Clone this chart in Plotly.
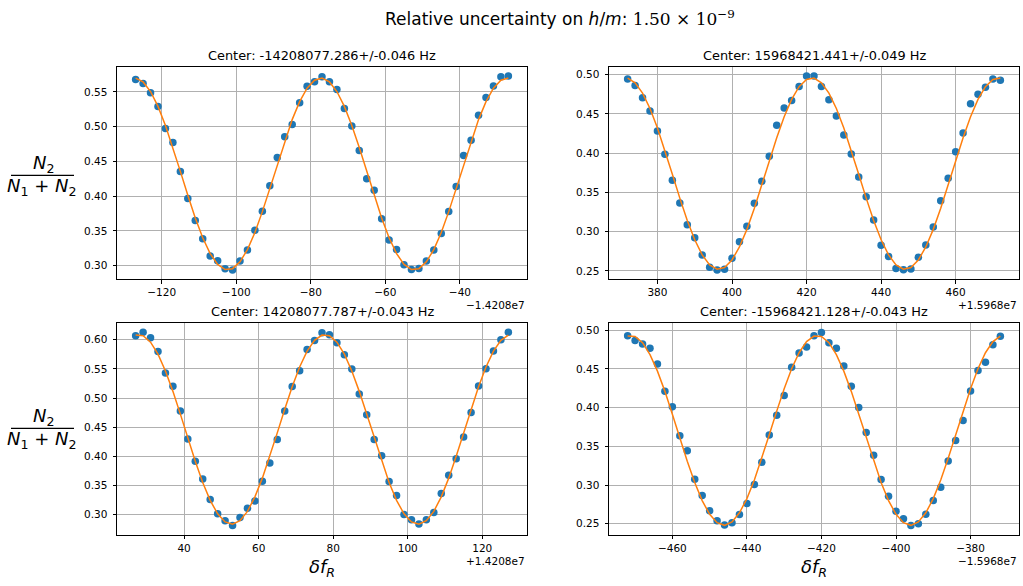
import plotly.graph_objects as go

W, H = 1023, 586

# Detuning of each Raman pulse relative to its axis offset (Hz)
X1 = list(range(-127, -26, 2))
X2 = list(range(372, 473, 2))
X3 = list(range(27, 128, 2))
X4 = list(range(-472, -371, 2))

OFFSET_LABELS = ["\u22121.4208e7", "+1.5968e7", "+1.4208e7", "\u22121.5968e7"]

TITLES = [
    "Center: -14208077.286+/-0.046 Hz",
    "Center: 15968421.441+/-0.049 Hz",
    "Center: 14208077.787+/-0.043 Hz",
    "Center: -15968421.128+/-0.043 Hz",
]

# Measured population ratio N2/(N1+N2)
Y1 = [0.5677, 0.5620, 0.5486, 0.5289, 0.4973, 0.4772, 0.4355, 0.3967, 0.3651, 0.3388,
      0.3139, 0.3072, 0.2957, 0.2938, 0.3067, 0.3225, 0.3512, 0.3785, 0.4149, 0.4557,
      0.4853, 0.5031, 0.5342, 0.5581, 0.5644, 0.5716, 0.5644, 0.5534, 0.5261, 0.5011,
      0.4657, 0.4250, 0.4087, 0.3675, 0.3369, 0.3235, 0.3014, 0.2947, 0.2962, 0.3067,
      0.3225, 0.3465, 0.3781, 0.4140, 0.4585, 0.4806, 0.5165, 0.5419, 0.5586, 0.5716,
      0.5730]
Y2 = [0.4945, 0.4864, 0.4707, 0.4537, 0.4283, 0.3986, 0.3655, 0.3366, 0.3090, 0.2924,
      0.2704, 0.2547, 0.2513, 0.2521, 0.2661, 0.2873, 0.3069, 0.3362, 0.3642, 0.3960,
      0.4355, 0.4576, 0.4673, 0.4851, 0.4983, 0.4983, 0.4851, 0.4682, 0.4474, 0.4232,
      0.3990, 0.3697, 0.3447, 0.3149, 0.2827, 0.2683, 0.2530, 0.2517, 0.2525, 0.2674,
      0.2831, 0.3060, 0.3396, 0.3680, 0.4020, 0.4257, 0.4631, 0.4750, 0.4839, 0.4945,
      0.4928]
Y3 = [0.6068, 0.6131, 0.6034, 0.5800, 0.5430, 0.5201, 0.4779, 0.4294, 0.3912, 0.3610,
      0.3256, 0.3011, 0.2891, 0.2811, 0.2948, 0.3108, 0.3233, 0.3570, 0.3884, 0.4289,
      0.4779, 0.5196, 0.5469, 0.5835, 0.5989, 0.6120, 0.6086, 0.5949, 0.5743, 0.5498,
      0.5070, 0.4711, 0.4289, 0.4009, 0.3564, 0.3325, 0.3000, 0.2908, 0.2834, 0.2908,
      0.3034, 0.3359, 0.3673, 0.3958, 0.4329, 0.4751, 0.5207, 0.5504, 0.5806, 0.6000,
      0.6131]
Y4 = [0.4927, 0.4867, 0.4820, 0.4764, 0.4563, 0.4211, 0.4009, 0.3636, 0.3443, 0.3075,
      0.2865, 0.2667, 0.2539, 0.2483, 0.2513, 0.2620, 0.2762, 0.3006, 0.3293, 0.3645,
      0.3902, 0.4155, 0.4520, 0.4704, 0.4781, 0.4927, 0.4970, 0.4837, 0.4764, 0.4537,
      0.4275, 0.4001, 0.3679, 0.3383, 0.3070, 0.2856, 0.2663, 0.2564, 0.2479, 0.2500,
      0.2624, 0.2800, 0.2972, 0.3310, 0.3576, 0.3834, 0.4215, 0.4477, 0.4584, 0.4811,
      0.4919]

# Fitted fringe evaluated at the same detunings
FIT1 = [0.5699, 0.5643, 0.5505, 0.5291, 0.5017, 0.4699, 0.4357, 0.4013, 0.3688, 0.3402,
        0.3175, 0.3019, 0.2945, 0.2958, 0.3056, 0.3233, 0.3479, 0.3778, 0.4110, 0.4456,
        0.4793, 0.5101, 0.5359, 0.5552, 0.5668, 0.5699, 0.5643, 0.5505, 0.5291, 0.5017,
        0.4699, 0.4357, 0.4013, 0.3688, 0.3402, 0.3175, 0.3019, 0.2945, 0.2958, 0.3056,
        0.3233, 0.3479, 0.3778, 0.4110, 0.4456, 0.4793, 0.5101, 0.5359, 0.5552, 0.5668,
        0.5699]
FIT2 = [0.4957, 0.4897, 0.4765, 0.4569, 0.4320, 0.4035, 0.3731, 0.3428, 0.3144, 0.2898,
        0.2705, 0.2577, 0.2522, 0.2543, 0.2640, 0.2806, 0.3030, 0.3299, 0.3596, 0.3902,
        0.4198, 0.4464, 0.4686, 0.4848, 0.4940, 0.4957, 0.4897, 0.4765, 0.4569, 0.4320,
        0.4035, 0.3731, 0.3428, 0.3144, 0.2898, 0.2705, 0.2577, 0.2522, 0.2543, 0.2640,
        0.2806, 0.3030, 0.3299, 0.3596, 0.3902, 0.4198, 0.4464, 0.4686, 0.4848, 0.4940,
        0.4957]
FIT3 = [0.6082, 0.6071, 0.5959, 0.5753, 0.5465, 0.5114, 0.4723, 0.4314, 0.3915, 0.3550,
        0.3242, 0.3011, 0.2871, 0.2831, 0.2893, 0.3053, 0.3302, 0.3624, 0.3998, 0.4401,
        0.4808, 0.5193, 0.5533, 0.5804, 0.5991, 0.6082, 0.6071, 0.5959, 0.5753, 0.5465,
        0.5114, 0.4723, 0.4314, 0.3915, 0.3550, 0.3242, 0.3011, 0.2871, 0.2831, 0.2893,
        0.3053, 0.3302, 0.3624, 0.3998, 0.4401, 0.4808, 0.5193, 0.5533, 0.5804, 0.5991,
        0.6082]
FIT4 = [0.4923, 0.4918, 0.4837, 0.4684, 0.4470, 0.4209, 0.3915, 0.3608, 0.3308, 0.3032,
        0.2799, 0.2622, 0.2514, 0.2480, 0.2524, 0.2641, 0.2825, 0.3065, 0.3345, 0.3648,
        0.3954, 0.4244, 0.4501, 0.4708, 0.4851, 0.4923, 0.4918, 0.4837, 0.4684, 0.4470,
        0.4209, 0.3915, 0.3608, 0.3308, 0.3032, 0.2799, 0.2622, 0.2514, 0.2480, 0.2524,
        0.2641, 0.2825, 0.3065, 0.3345, 0.3648, 0.3954, 0.4244, 0.4501, 0.4708, 0.4851,
        0.4923]

XTICKS = [[-120, -100, -80, -60, -40], [380, 400, 420, 440, 460],
          [40, 60, 80, 100, 120], [-460, -440, -420, -400, -380]]
YTICKS = [[0.30, 0.35, 0.40, 0.45, 0.50, 0.55], [0.25, 0.30, 0.35, 0.40, 0.45, 0.50],
          [0.30, 0.35, 0.40, 0.45, 0.50, 0.55, 0.60], [0.25, 0.30, 0.35, 0.40, 0.45, 0.50]]

BLUE = "#1f77b4"
ORANGE = "#ff7f0e"
FONT = "DejaVu Sans"

# Panel boxes in pixels: (left, right, top, bottom)
BOXES = [(117, 527, 66.7, 279.3), (609, 1019, 66.7, 279.3),
         (117, 527, 322.5, 535), (609, 1019, 322.5, 535)]
XRANGES = [[-132, -22], [367, 477], [22, 132], [-477, -367]]
YRANGES = [[0.2805, 0.5862], [0.2394, 0.5102], [0.2647, 0.6297], [0.2355, 0.5098]]


def px(x):
    return x / W


def py(y):
    return 1 - y / H


def fmt_tick(v):
    s = f"{v:g}"
    return s.replace("-", "\u2212")


fig = go.Figure()
series = [(X1, Y1, FIT1), (X2, Y2, FIT2), (X3, Y3, FIT3), (X4, Y4, FIT4)]
annotations = []
shapes = []

for i, (xs, ys, fit) in enumerate(series):
    n = i + 1
    xa = "x" if n == 1 else f"x{n}"
    ya = "y" if n == 1 else f"y{n}"
    fig.add_trace(go.Scatter(x=xs, y=ys, mode="markers", xaxis=xa, yaxis=ya,
                             marker=dict(color=BLUE, size=7.5, line=dict(width=0)),
                             showlegend=False))
    fig.add_trace(go.Scatter(x=xs, y=fit, mode="lines", xaxis=xa, yaxis=ya,
                             line=dict(color=ORANGE, width=1.5),
                             showlegend=False))

    left, right, top, bottom = BOXES[i]
    axis_common = dict(showline=True, mirror=True, linecolor="black", linewidth=0.9,
                       ticks="outside", ticklen=3.5, tickwidth=0.9, tickcolor="black",
                       showgrid=True, gridcolor="#b0b0b0", gridwidth=0.8,
                       zeroline=False, tickfont=dict(family=FONT, size=10.5, color="black"))
    fig.update_layout(**{
        ("xaxis" if n == 1 else f"xaxis{n}"): dict(
            domain=[px(left), px(right)], range=XRANGES[i], anchor=ya,
            tickvals=XTICKS[i], ticktext=[fmt_tick(v) for v in XTICKS[i]],
            **axis_common),
        ("yaxis" if n == 1 else f"yaxis{n}"): dict(
            domain=[py(bottom), py(top)], range=YRANGES[i], anchor=xa,
            tickvals=YTICKS[i], ticktext=[f"{v:.2f}" for v in YTICKS[i]],
            ticklabelstandoff=3,
            **axis_common),
    })

    # panel title
    annotations.append(dict(x=px((left + right) / 2), y=py(top - 11.5), xref="paper", yref="paper",
                            text=TITLES[i], showarrow=False, xanchor="center", yanchor="middle",
                            font=dict(family=FONT, size=12.9, color="black")))
    # axis offset text
    annotations.append(dict(x=px(right), y=py(bottom + 25.5), xref="paper", yref="paper",
                            text=OFFSET_LABELS[i], showarrow=False, xanchor="right", yanchor="middle",
                            font=dict(family=FONT, size=10.5, color="black")))

# y-axis label (fraction) for each row
for bar_y in (175.3, 428.3):
    shapes.append(dict(type="line", xref="paper", yref="paper",
                       x0=px(11), x1=px(74), y0=py(bar_y), y1=py(bar_y),
                       line=dict(color="black", width=1.3)))
    annotations.append(dict(x=px(43), y=py(bar_y - 11.5), xref="paper", yref="paper",
                            text="<i>N</i><sub>2</sub>", showarrow=False,
                            xanchor="center", yanchor="middle",
                            font=dict(family=FONT, size=18, color="black")))
    annotations.append(dict(x=px(42), y=py(bar_y + 11.5), xref="paper", yref="paper",
                            text="<i>N</i><sub>1</sub> + <i>N</i><sub>2</sub>", showarrow=False,
                            xanchor="center", yanchor="middle",
                            font=dict(family=FONT, size=18, color="black")))

# x-axis labels for the bottom row
for cx in (322, 814):
    annotations.append(dict(x=px(cx), y=py(568), xref="paper", yref="paper",
                            text="<i>\u03b4f</i><sub><i>R</i></sub>", showarrow=False,
                            xanchor="center", yanchor="middle",
                            font=dict(family=FONT, size=18, color="black")))

# figure title
annotations.append(dict(
    x=px(560), y=py(18), xref="paper", yref="paper", showarrow=False,
    xanchor="center", yanchor="middle",
    text=("Relative uncertainty on <i>h</i>/<i>m</i>: "
          "<span style=\"font-family:'DejaVu Serif'\">1.50 \u00d7 10<sup>\u22129</sup></span>"),
    font=dict(family=FONT, size=17, color="black")))

fig.update_layout(width=W, height=H, margin=dict(l=0, r=0, t=0, b=0),
                  paper_bgcolor="white", plot_bgcolor="white",
                  annotations=annotations, shapes=shapes,
                  font=dict(family=FONT, color="black"))

fig.write_html("out.html")
